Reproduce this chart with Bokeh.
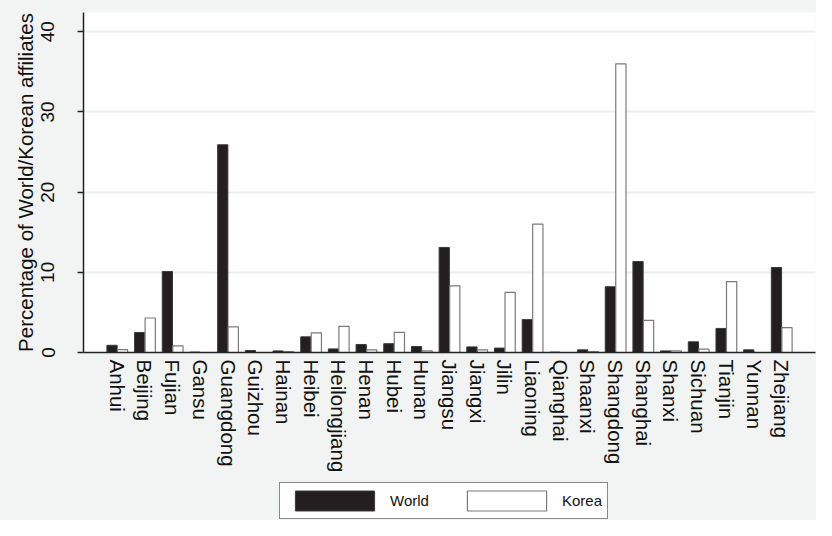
from bokeh.plotting import figure
from bokeh.layouts import column
from bokeh.models import ColumnDataSource, FactorRange, Range1d, Legend, LegendItem, FixedTicker
from bokeh.transform import dodge
from bokeh.embed import file_html
from bokeh.resources import INLINE

provinces = ["Anhui", "Beijing", "Fujian", "Gansu", "Guangdong", "Guizhou", "Hainan",
             "Heibei", "Heilongjiang", "Henan", "Hubei", "Hunan", "Jiangsu", "Jiangxi",
             "Jilin", "Liaoning", "Qianghai", "Shaanxi", "Shangdong", "Shanghai", "Shanxi",
             "Sichuan", "Tianjin", "Yunnan", "Zhejiang"]
world = [0.9, 2.5, 10.1, 0.05, 25.9, 0.25, 0.2, 1.95, 0.45, 1.0, 1.1, 0.75, 13.1, 0.7,
         0.55, 4.1, 0.05, 0.33, 8.2, 11.35, 0.2, 1.33, 3.0, 0.33, 10.6]
korea = [0.35, 4.3, 0.83, 0.0, 3.2, 0.0, 0.1, 2.45, 3.25, 0.33, 2.5, 0.2, 8.3, 0.33,
         7.5, 16.0, 0.0, 0.1, 36.0, 4.0, 0.2, 0.42, 8.85, 0.0, 3.1]
y_ticks = [0, 10, 20, 30, 40]
series_names = ["World", "Korea"]

FONT = "Liberation Sans"
BG = "#f2f4f3"
WORLD_FILL, WORLD_LINE = "#231f20", "#3a3a3a"
KOREA_FILL, KOREA_LINE = "white", "#7a7a7a"

src = ColumnDataSource(dict(prov=provinces, world=world, korea=korea))

p = figure(width=816, height=476, output_backend="svg", toolbar_location=None,
           x_range=FactorRange(factors=provinces, range_padding=0.0576, range_padding_units="percent"),
           y_range=Range1d(0, 42.4),
           min_border_left=83, min_border_right=1, min_border_top=12, min_border_bottom=124)
p.background_fill_color = "white"
p.border_fill_color = BG
p.outline_line_color = None

p.vbar(x=dodge("prov", -0.19, range=p.x_range), top="world", width=0.37, bottom=0,
       source=src, fill_color=WORLD_FILL, line_color=WORLD_LINE, line_width=1)
p.vbar(x=dodge("prov", 0.19, range=p.x_range), top="korea", width=0.37, bottom=0,
       source=src, fill_color=KOREA_FILL, line_color=KOREA_LINE, line_width=1.2)

p.xgrid.visible = False
p.ygrid.grid_line_color = "#eceeed"
p.ygrid.grid_line_width = 2
p.ygrid.ticker = FixedTicker(ticks=[10, 20, 30, 40])

p.yaxis.ticker = FixedTicker(ticks=y_ticks)
p.yaxis.major_label_orientation = "vertical"
p.yaxis.major_label_text_font = FONT
p.yaxis.major_label_text_font_size = "19px"
p.yaxis.major_label_text_color = "#111111"
p.yaxis.major_label_standoff = 23
p.yaxis.major_tick_out = 6
p.yaxis.major_tick_in = 0
p.yaxis.minor_tick_out = 0
p.yaxis.minor_tick_in = 0
p.yaxis.axis_line_width = 1.5
p.yaxis.axis_line_color = "#222222"
p.yaxis.major_tick_line_color = "#222222"
p.yaxis.major_tick_line_width = 1.5
p.yaxis.axis_label = "Percentage of World/Korean affiliates"
p.yaxis.axis_label_text_font = FONT
p.yaxis.axis_label_text_font_size = "20.5px"
p.yaxis.axis_label_text_font_style = "normal"
p.yaxis.axis_label_text_color = "#111111"
p.yaxis.axis_label_standoff = 2

p.xaxis.major_label_orientation = "vertical"
p.xaxis.major_label_text_font = FONT
p.xaxis.major_label_text_font_size = "20.5px"
p.xaxis.major_label_text_color = "#111111"
p.xaxis.major_label_standoff = 7
p.xaxis.major_tick_out = 0
p.xaxis.major_tick_in = 0
p.xaxis.axis_line_width = 1.5
p.xaxis.axis_line_color = "#222222"

# legend strip below the chart; its y range lies far above the data,
# so the renderers only lend their styles to the legend swatches
lg = figure(width=816, height=44, output_backend="svg", toolbar_location=None,
            x_range=FactorRange(factors=provinces), y_range=Range1d(1000, 1001),
            x_axis_location=None, y_axis_location=None, min_border=0)
lg.background_fill_color = BG
lg.border_fill_color = BG
lg.outline_line_color = None
lg.grid.visible = False
kw = lg.vbar(x="prov", top="world", width=0.37, source=src,
             fill_color=WORLD_FILL, line_color=WORLD_LINE, line_width=1)
kk = lg.vbar(x="prov", top="korea", width=0.37, source=src,
             fill_color=KOREA_FILL, line_color=KOREA_LINE, line_width=1.2)
legend = Legend(items=[LegendItem(label=series_names[0], renderers=[kw]),
                       LegendItem(label=series_names[1], renderers=[kk])],
                orientation="horizontal", location=(196, 1), margin=0,
                padding=5, spacing=27, glyph_width=99, glyph_height=25,
                label_standoff=6, label_width=40,
                label_text_font=FONT, label_text_font_size="15px",
                label_text_color="#111111",
                border_line_color="#111111", border_line_width=1.5,
                background_fill_color="white", background_fill_alpha=1.0)
lg.add_layout(legend, "center")

layout = column(p, lg, spacing=0, styles={"background-color": BG})
open("out.html", "w").write(file_html(layout, INLINE))
